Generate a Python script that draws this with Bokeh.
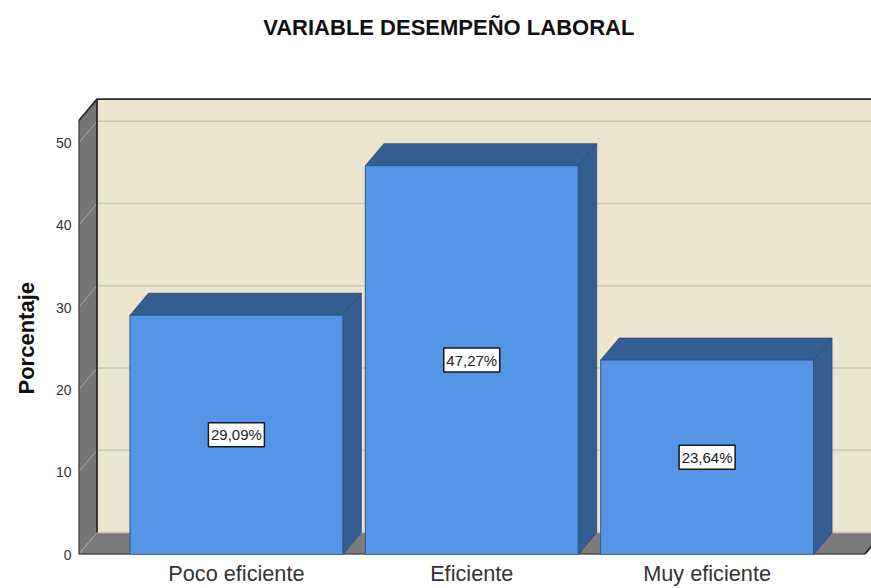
from bokeh.plotting import figure
from bokeh.embed import file_html
from bokeh.resources import INLINE
from bokeh.models import Range1d, FixedTicker, Label, Title
from bokeh.core.properties import value

categories = ["Poco eficiente", "Eficiente", "Muy eficiente"]
percentages = [29.09, 47.27, 23.64]
labels = ["29,09%", "47,27%", "23,64%"]
y_ticks = [0, 10, 20, 30, 40, 50]
title_text = "VARIABLE DESEMPEÑO LABORAL"
y_title = "Porcentaje"

FONT = "Liberation Sans"
WALL = "#757575"
FLOOR = "#7b7b7b"
BACK = "#ebe5d0"
GRID = "#cac6ba"
BAR = "#5495e6"
BAR_DARK = "#345e92"
EDGE = "#26282a"

# scales: one x unit is one category pitch; the frame reaches the top of the
# page so that the heading sits inside it
PITCH = 235.5
PX_Y = 8.24
Y0_PX = 555
X_LO = (77.5 - PITCH) / PITCH
X_HI = (871 - PITCH) / PITCH
Y_HI = Y0_PX / PX_Y
BAR_W = 213 / PITCH
DX = 18.5 / PITCH        # depth of the 3D box
DY = 22 / PX_Y
X_FRONT_R = (864 - PITCH) / PITCH
Y_TOP = 52.7             # top of the front edge of the wall

p = figure(width=871, height=588, output_backend="svg", toolbar_location=None,
           x_range=Range1d(X_LO, X_HI), y_range=Range1d(0, Y_HI), title=None,
           min_border_left=78, min_border_right=0, min_border_top=0, min_border_bottom=33,
           outline_line_color=None, background_fill_color="white", border_fill_color="white")
p.xgrid.visible = False
p.ygrid.visible = False

xa, ya = p.xaxis[0], p.yaxis[0]
xa.ticker = FixedTicker(ticks=list(range(len(categories))))
xa.major_label_overrides = {i: c for i, c in enumerate(categories)}
ya.ticker = FixedTicker(ticks=y_ticks)
for a in (xa, ya):
    a.axis_line_color = None
    a.major_tick_line_color = None
    a.minor_tick_line_color = None
    a.major_tick_in = 0
    a.major_tick_out = 0
    a.major_label_text_font = FONT
    a.major_label_text_color = "#333333"
xa.major_label_text_font_size = "21.7px"
xa.major_label_standoff = 6
ya.major_label_text_font_size = "14px"
ya.major_label_standoff = 7

p.add_layout(Label(x=(448 - PITCH) / PITCH, y=(Y0_PX - 27) / PX_Y, text=title_text,
                   text_align="center", text_baseline="middle", text_font=FONT,
                   text_font_size="22px", text_font_style="bold", text_color="#111111"))

yt = Title(text=y_title, align="left", offset=160, vertical_align="top")
yt.text_font = FONT
yt.text_font_size = "22px"
yt.text_font_style = "bold"
yt.text_color = "#111111"
yt.standoff = 23
p.add_layout(yt, "left")

x0 = X_LO
xb = X_LO + DX
xr = X_FRONT_R

# back wall, floor, left wall
p.quad(left=[xb], right=[X_HI + 1], bottom=[DY], top=[Y_TOP + DY],
       fill_color=BACK, line_color=None)
p.patch([x0, xr, xr + DX, xb], [0, 0, DY, DY], fill_color=FLOOR, line_color=None)
p.patch([x0, xb, xb, x0], [0, DY, Y_TOP + DY, Y_TOP], fill_color=WALL, line_color=None)

# grid lines on the back wall and across the side wall
p.segment([xb] * len(y_ticks), [v + DY for v in y_ticks], [X_HI + 1] * len(y_ticks),
          [v + DY for v in y_ticks], line_color=GRID, line_width=1.5)
p.segment([x0] * len(y_ticks), y_ticks, [xb] * len(y_ticks),
          [v + DY for v in y_ticks], line_color="#a9a9a9", line_width=1)

# box edges
p.line([x0, x0, xb, X_HI + 1], [0, Y_TOP, Y_TOP + DY, Y_TOP + DY], line_color=EDGE, line_width=1.8)
p.line([xb, xb], [DY, Y_TOP + DY], line_color=EDGE, line_width=1.8)
p.line([x0, xr, xr + DX], [0, 0, DY], line_color=EDGE, line_width=1.8)

# 3D bars
hw = BAR_W / 2
for i, v in enumerate(percentages):
    p.patch([i - hw, i + hw, i + hw + DX, i - hw + DX], [v, v, v + DY, v + DY],
            fill_color=BAR_DARK, line_color="#2b4a70", line_width=0.8)
    p.patch([i + hw, i + hw + DX, i + hw + DX, i + hw], [0, DY, v + DY, v],
            fill_color=BAR_DARK, line_color="#2b4a70", line_width=0.8)
p.quad(left=[i - hw for i in range(3)], right=[i + hw for i in range(3)],
       bottom=[0] * 3, top=percentages, fill_color=BAR, line_color="#2f5684", line_width=1)

# value labels
xs = list(range(3))
mids = [v / 2 for v in percentages]
p.rect(xs, mids, width=56, height=24, width_units="screen", height_units="screen",
       fill_color="white", line_color="#15181c", line_width=1.5)
p.text(xs, mids, text=labels, text_align="center", text_baseline="middle",
       text_font=value(FONT), text_font_size="15px", text_color="#222222")

open("out.html", "w").write(file_html(p, INLINE))
